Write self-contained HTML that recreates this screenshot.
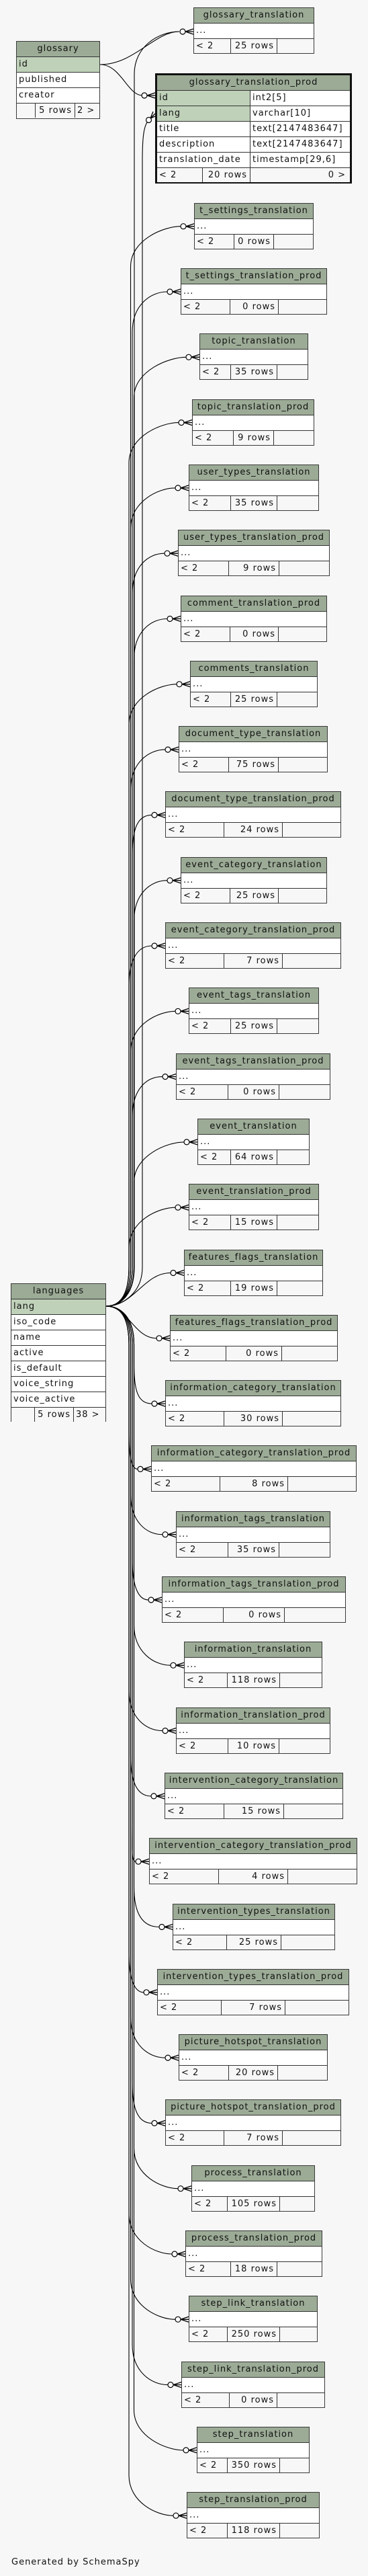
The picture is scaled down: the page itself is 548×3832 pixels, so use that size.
<!DOCTYPE html>
<html><head><meta charset="utf-8"><style>
html,body{margin:0;padding:0}
body{width:548px;height:3832px;background:#f7f7f7;position:relative;overflow:hidden;font-family:"DejaVu Sans","Liberation Sans",sans-serif;font-size:13px;letter-spacing:1px;color:#111}
.t{position:absolute;border:1px solid #3a3a3a;background:#fff;box-sizing:border-box;height:69px}
.h{height:22px;line-height:22px;background:#9cab96;border-bottom:1px solid #333;text-align:center;white-space:nowrap;overflow:hidden}
.r{height:22px;line-height:22px;border-bottom:1px solid #333;padding-left:3px;white-space:nowrap;overflow:hidden}
.pk{background:#bfd1b9}
.f{height:21px;line-height:21px;display:flex;background:#f7f7f7}
.f span{box-sizing:border-box;border-right:1px solid #333;padding:0 3px;white-space:nowrap;overflow:hidden;display:block}
.f span.c{text-align:right;padding-right:4px}
.f span:last-child{border-right:none;flex:1}
svg{position:absolute;left:0;top:0}
</style></head><body>
<svg width="548" height="3832" viewBox="0 0 548 3832">
<defs><g id="cf"><path d="M-12,0 L0,-4 M-12,0 L0,0 M-12,0 L0,4" stroke="#000" stroke-width="1.3" fill="none"/><circle cx="-16" cy="0" r="4" fill="#fff" stroke="#000" stroke-width="1.2"/></g></defs>
<g fill="none" stroke="#000" stroke-width="1.1">
<path d="M149,96 C200,96 230,47 267,47"/>
<path d="M149,96 C180,96 190,142 212,142"/>
<path d="M158,1943 C180,1943 200,1925 200,1885 L200,110 C200,70 235,47 267,47"/>
<path d="M158,1943 C180,1943 212,1925 212,1885 L212,240 C212,205 214,190 219,182"/>
<path d="M158,1943 C180,1943 194.5,1925 194.5,1885 L194.5,396.7 C194.5,356.7 244,336.7 269,336.7"/>
<path d="M158,1943 C180,1943 197,1925 197,1885 L197,494 C197,454 224,434 249,434"/>
<path d="M158,1943 C180,1943 199.5,1925 199.5,1885 L199.5,591.3 C199.5,551.3 252,531.3 277,531.3"/>
<path d="M158,1943 C180,1943 192,1925 192,1885 L192,688.6 C192,648.6 241,628.6 266,628.6"/>
<path d="M158,1943 C180,1943 194.5,1925 194.5,1885 L194.5,785.9 C194.5,745.9 236,725.9 261,725.9"/>
<path d="M158,1943 C180,1943 197,1925 197,1885 L197,883.2 C197,843.2 220,823.2 245,823.2"/>
<path d="M158,1943 C180,1943 199.5,1925 199.5,1885 L199.5,980.5 C199.5,940.5 224,920.5 249,920.5"/>
<path d="M158,1943 C180,1943 192,1925 192,1885 L192,1077.8 C192,1037.8 238,1017.8 263,1017.8"/>
<path d="M158,1943 C180,1943 194.5,1925 194.5,1885 L194.5,1175.1 C194.5,1135.1 221,1115.1 246,1115.1"/>
<path d="M158,1943 C180,1943 197,1925 197,1885 L197,1272.4 C197,1232.4 205,1212.4 226,1212.4"/>
<path d="M158,1943 C180,1943 199.5,1925 199.5,1885 L199.5,1369.7 C199.5,1329.7 224,1309.7 249,1309.7"/>
<path d="M158,1943 C180,1943 192,1925 192,1885 L192,1467 C192,1427 205,1407 226,1407"/>
<path d="M158,1943 C180,1943 194.5,1925 194.5,1885 L194.5,1564.3 C194.5,1524.3 236,1504.3 261,1504.3"/>
<path d="M158,1943 C180,1943 197,1925 197,1885 L197,1661.6 C197,1621.6 217,1601.6 242,1601.6"/>
<path d="M158,1943 C180,1943 199.5,1925 199.5,1885 L199.5,1758.9 C199.5,1718.9 249,1698.9 274,1698.9"/>
<path d="M158,1943 C180,1943 192,1925 192,1885 L192,1856.2 C192,1816.2 236,1796.2 261,1796.2"/>
<path d="M158,1943 C200,1943 214,1893.5 254,1893.5"/>
<path d="M158,1943 C190,1943 200,1990.8 233,1990.8"/>
<path d="M158,1943 C180,1943 199.5,1960 199.5,2000 L199.5,2028.1 C199.5,2068.1 205,2088.1 226,2088.1"/>
<path d="M158,1943 C180,1943 192,1960 192,2000 L192,2125.4 C192,2165.4 195,2185.4 205,2185.4"/>
<path d="M158,1943 C180,1943 194.5,1960 194.5,2000 L194.5,2222.7 C194.5,2262.7 217,2282.7 242,2282.7"/>
<path d="M158,1943 C180,1943 197,1960 197,2000 L197,2320 C197,2360 206,2380 221,2380"/>
<path d="M158,1943 C180,1943 199.5,1960 199.5,2000 L199.5,2417.3 C199.5,2457.3 229,2477.3 254,2477.3"/>
<path d="M158,1943 C180,1943 192,1960 192,2000 L192,2514.6 C192,2554.6 217,2574.6 242,2574.6"/>
<path d="M158,1943 C180,1943 194.5,1960 194.5,2000 L194.5,2611.9 C194.5,2651.9 205,2671.9 225,2671.9"/>
<path d="M158,1943 C180,1943 197,1960 197,2000 L197,2709.2 C197,2749.2 195,2769.2 202,2769.2"/>
<path d="M158,1943 C180,1943 199.5,1960 199.5,2000 L199.5,2806.5 C199.5,2846.5 212,2866.5 237,2866.5"/>
<path d="M158,1943 C180,1943 192,1960 192,2000 L192,2903.8 C192,2943.8 200,2963.8 214,2963.8"/>
<path d="M158,1943 C180,1943 194.5,1960 194.5,2000 L194.5,3001.1 C194.5,3041.1 221,3061.1 246,3061.1"/>
<path d="M158,1943 C180,1943 197,1960 197,2000 L197,3098.4 C197,3138.4 206,3158.4 226,3158.4"/>
<path d="M158,1943 C180,1943 199.5,1960 199.5,2000 L199.5,3195.7 C199.5,3235.7 240,3255.7 265,3255.7"/>
<path d="M158,1943 C180,1943 192,1960 192,2000 L192,3293 C192,3333 231,3353 256,3353"/>
<path d="M158,1943 C180,1943 194.5,1960 194.5,2000 L194.5,3390.3 C194.5,3430.3 236,3450.3 261,3450.3"/>
<path d="M158,1943 C180,1943 197,1960 197,2000 L197,3487.6 C197,3527.6 225,3547.6 250,3547.6"/>
<path d="M158,1943 C180,1943 199.5,1960 199.5,2000 L199.5,3584.9 C199.5,3624.9 248,3644.9 273,3644.9"/>
<path d="M158,1943 C180,1943 192,1960 192,2000 L192,3682.2 C192,3722.2 233,3742.2 258,3742.2"/>
<path d="M224,176 L231,169 M224,176 L228,166 M224,176 L231,173" stroke-width="1.3"/>
</g>
<circle cx="221.5" cy="178.5" r="4" fill="#fff" stroke="#000" stroke-width="1.2"/>
<use href="#cf" x="288" y="47"/>
<use href="#cf" x="231" y="142"/>
<use href="#cf" x="289" y="336.7"/><use href="#cf" x="269" y="434"/><use href="#cf" x="297" y="531.3"/><use href="#cf" x="286" y="628.6"/><use href="#cf" x="281" y="725.9"/><use href="#cf" x="265" y="823.2"/><use href="#cf" x="269" y="920.5"/><use href="#cf" x="283" y="1017.8"/><use href="#cf" x="266" y="1115.1"/><use href="#cf" x="246" y="1212.4"/><use href="#cf" x="269" y="1309.7"/><use href="#cf" x="246" y="1407"/><use href="#cf" x="281" y="1504.3"/><use href="#cf" x="262" y="1601.6"/><use href="#cf" x="294" y="1698.9"/><use href="#cf" x="281" y="1796.2"/><use href="#cf" x="274" y="1893.5"/><use href="#cf" x="253" y="1990.8"/><use href="#cf" x="246" y="2088.1"/><use href="#cf" x="225" y="2185.4"/><use href="#cf" x="262" y="2282.7"/><use href="#cf" x="241" y="2380"/><use href="#cf" x="274" y="2477.3"/><use href="#cf" x="262" y="2574.6"/><use href="#cf" x="245" y="2671.9"/><use href="#cf" x="222" y="2769.2"/><use href="#cf" x="257" y="2866.5"/><use href="#cf" x="234" y="2963.8"/><use href="#cf" x="266" y="3061.1"/><use href="#cf" x="246" y="3158.4"/><use href="#cf" x="285" y="3255.7"/><use href="#cf" x="276" y="3353"/><use href="#cf" x="281" y="3450.3"/><use href="#cf" x="270" y="3547.6"/><use href="#cf" x="293" y="3644.9"/><use href="#cf" x="278" y="3742.2"/>
</svg>

<!-- glossary -->
<div class="t" style="left:24px;top:61px;width:125px;height:116px"><div class="h">glossary</div><div class="r pk">id</div><div class="r">published</div><div class="r">creator</div><div class="f"><span style="width:28px"></span><span class="c" style="width:59px">5 rows</span><span>2 &gt;</span></div></div>

<!-- languages -->
<div class="t" style="left:16px;top:1909px;width:142px;height:206px"><div class="h">languages</div><div class="r pk">lang</div><div class="r">iso_code</div><div class="r">name</div><div class="r">active</div><div class="r">is_default</div><div class="r">voice_string</div><div class="r">voice_active</div><div class="f"><span style="width:35px"></span><span class="c" style="width:58px">5 rows</span><span>38 &gt;</span></div></div>

<!-- glossary_translation -->
<div class="t" style="left:288px;top:10.7px;width:180px"><div class="h">glossary_translation</div><div class="r">...</div><div class="f"><span style="width:55px">&lt; 2</span><span class="c" style="width:69px">25 rows</span><span></span></div></div>

<!-- glossary_translation_prod -->
<div style="position:absolute;left:231px;top:109px;width:293px;height:164px;border:3px solid #111;box-sizing:border-box;background:#fff">
<div class="h" style="height:22px">glossary_translation_prod</div>
<div style="display:flex"><div style="width:138px;border-right:1px solid #333">
<div class="r pk">id</div><div class="r pk">lang</div><div class="r">title</div><div class="r">description</div><div class="r">translation_date</div></div>
<div style="flex:1"><div class="r">int2[5]</div><div class="r">varchar[10]</div><div class="r">text[2147483647]</div><div class="r">text[2147483647]</div><div class="r">timestamp[29,6]</div></div></div>
<div class="f"><span style="width:68px">&lt; 2</span><span class="c" style="width:71px">20 rows</span><span style="text-align:right;padding-right:6px">0 &gt;</span></div>
</div>

<div class="t" style="left:289px;top:301.7px;width:178px"><div class="h">t_settings_translation</div><div class="r">...</div><div class="f"><span style="width:59px">&lt; 2</span><span class="c" style="width:59px">0 rows</span><span></span></div></div>
<div class="t" style="left:269px;top:399px;width:218px"><div class="h">t_settings_translation_prod</div><div class="r">...</div><div class="f"><span style="width:73px">&lt; 2</span><span class="c" style="width:72px">0 rows</span><span></span></div></div>
<div class="t" style="left:297px;top:496.3px;width:162px"><div class="h">topic_translation</div><div class="r">...</div><div class="f"><span style="width:46px">&lt; 2</span><span class="c" style="width:69px">35 rows</span><span></span></div></div>
<div class="t" style="left:286px;top:593.6px;width:182px"><div class="h">topic_translation_prod</div><div class="r">...</div><div class="f"><span style="width:61px">&lt; 2</span><span class="c" style="width:60px">9 rows</span><span></span></div></div>
<div class="t" style="left:281px;top:690.9px;width:194px"><div class="h">user_types_translation</div><div class="r">...</div><div class="f"><span style="width:62px">&lt; 2</span><span class="c" style="width:69px">35 rows</span><span></span></div></div>
<div class="t" style="left:265px;top:788.2px;width:226px"><div class="h">user_types_translation_prod</div><div class="r">...</div><div class="f"><span style="width:75px">&lt; 2</span><span class="c" style="width:75px">9 rows</span><span></span></div></div>
<div class="t" style="left:269px;top:885.5px;width:218px"><div class="h">comment_translation_prod</div><div class="r">...</div><div class="f"><span style="width:73px">&lt; 2</span><span class="c" style="width:72px">0 rows</span><span></span></div></div>
<div class="t" style="left:283px;top:982.8px;width:190px"><div class="h">comments_translation</div><div class="r">...</div><div class="f"><span style="width:60px">&lt; 2</span><span class="c" style="width:69px">25 rows</span><span></span></div></div>
<div class="t" style="left:266px;top:1080.1px;width:222px"><div class="h">document_type_translation</div><div class="r">...</div><div class="f"><span style="width:74px">&lt; 2</span><span class="c" style="width:74px">75 rows</span><span></span></div></div>
<div class="t" style="left:246px;top:1177.4px;width:262px"><div class="h">document_type_translation_prod</div><div class="r">...</div><div class="f"><span style="width:87px">&lt; 2</span><span class="c" style="width:87px">24 rows</span><span></span></div></div>
<div class="t" style="left:269px;top:1274.7px;width:218px"><div class="h">event_category_translation</div><div class="r">...</div><div class="f"><span style="width:73px">&lt; 2</span><span class="c" style="width:72px">25 rows</span><span></span></div></div>
<div class="t" style="left:246px;top:1372px;width:262px"><div class="h">event_category_translation_prod</div><div class="r">...</div><div class="f"><span style="width:87px">&lt; 2</span><span class="c" style="width:87px">7 rows</span><span></span></div></div>
<div class="t" style="left:281px;top:1469.3px;width:194px"><div class="h">event_tags_translation</div><div class="r">...</div><div class="f"><span style="width:62px">&lt; 2</span><span class="c" style="width:69px">25 rows</span><span></span></div></div>
<div class="t" style="left:262px;top:1566.6px;width:230px"><div class="h">event_tags_translation_prod</div><div class="r">...</div><div class="f"><span style="width:77px">&lt; 2</span><span class="c" style="width:76px">0 rows</span><span></span></div></div>
<div class="t" style="left:294px;top:1663.9px;width:167px"><div class="h">event_translation</div><div class="r">...</div><div class="f"><span style="width:49px">&lt; 2</span><span class="c" style="width:69px">64 rows</span><span></span></div></div>
<div class="t" style="left:281px;top:1761.2px;width:194px"><div class="h">event_translation_prod</div><div class="r">...</div><div class="f"><span style="width:62px">&lt; 2</span><span class="c" style="width:69px">15 rows</span><span></span></div></div>
<div class="t" style="left:274px;top:1858.5px;width:207px"><div class="h">features_flags_translation</div><div class="r">...</div><div class="f"><span style="width:69px">&lt; 2</span><span class="c" style="width:69px">19 rows</span><span></span></div></div>
<div class="t" style="left:253px;top:1955.8px;width:250px"><div class="h">features_flags_translation_prod</div><div class="r">...</div><div class="f"><span style="width:83px">&lt; 2</span><span class="c" style="width:83px">0 rows</span><span></span></div></div>
<div class="t" style="left:246px;top:2053.1px;width:262px"><div class="h">information_category_translation</div><div class="r">...</div><div class="f"><span style="width:87px">&lt; 2</span><span class="c" style="width:87px">30 rows</span><span></span></div></div>
<div class="t" style="left:225px;top:2150.4px;width:306px"><div class="h">information_category_translation_prod</div><div class="r">...</div><div class="f"><span style="width:102px">&lt; 2</span><span class="c" style="width:101px">8 rows</span><span></span></div></div>
<div class="t" style="left:262px;top:2247.7px;width:230px"><div class="h">information_tags_translation</div><div class="r">...</div><div class="f"><span style="width:77px">&lt; 2</span><span class="c" style="width:76px">35 rows</span><span></span></div></div>
<div class="t" style="left:241px;top:2345px;width:274px"><div class="h">information_tags_translation_prod</div><div class="r">...</div><div class="f"><span style="width:91px">&lt; 2</span><span class="c" style="width:91px">0 rows</span><span></span></div></div>
<div class="t" style="left:274px;top:2442.3px;width:206px"><div class="h">information_translation</div><div class="r">...</div><div class="f"><span style="width:64px">&lt; 2</span><span class="c" style="width:78px">118 rows</span><span></span></div></div>
<div class="t" style="left:262px;top:2539.6px;width:230px"><div class="h">information_translation_prod</div><div class="r">...</div><div class="f"><span style="width:77px">&lt; 2</span><span class="c" style="width:76px">10 rows</span><span></span></div></div>
<div class="t" style="left:245px;top:2636.9px;width:266px"><div class="h">intervention_category_translation</div><div class="r">...</div><div class="f"><span style="width:88px">&lt; 2</span><span class="c" style="width:89px">15 rows</span><span></span></div></div>
<div class="t" style="left:222px;top:2734.2px;width:310px"><div class="h">intervention_category_translation_prod</div><div class="r">...</div><div class="f"><span style="width:103px">&lt; 2</span><span class="c" style="width:103px">4 rows</span><span></span></div></div>
<div class="t" style="left:257px;top:2831.5px;width:242px"><div class="h">intervention_types_translation</div><div class="r">...</div><div class="f"><span style="width:80px">&lt; 2</span><span class="c" style="width:81px">25 rows</span><span></span></div></div>
<div class="t" style="left:234px;top:2928.8px;width:286px"><div class="h">intervention_types_translation_prod</div><div class="r">...</div><div class="f"><span style="width:95px">&lt; 2</span><span class="c" style="width:95px">7 rows</span><span></span></div></div>
<div class="t" style="left:266px;top:3026.1px;width:222px"><div class="h">picture_hotspot_translation</div><div class="r">...</div><div class="f"><span style="width:74px">&lt; 2</span><span class="c" style="width:73px">20 rows</span><span></span></div></div>
<div class="t" style="left:246px;top:3123.4px;width:262px"><div class="h">picture_hotspot_translation_prod</div><div class="r">...</div><div class="f"><span style="width:87px">&lt; 2</span><span class="c" style="width:87px">7 rows</span><span></span></div></div>
<div class="t" style="left:285px;top:3220.7px;width:184px"><div class="h">process_translation</div><div class="r">...</div><div class="f"><span style="width:53px">&lt; 2</span><span class="c" style="width:78px">105 rows</span><span></span></div></div>
<div class="t" style="left:276px;top:3318px;width:204px"><div class="h">process_translation_prod</div><div class="r">...</div><div class="f"><span style="width:67px">&lt; 2</span><span class="c" style="width:69px">18 rows</span><span></span></div></div>
<div class="t" style="left:281px;top:3415.3px;width:192px"><div class="h">step_link_translation</div><div class="r">...</div><div class="f"><span style="width:57px">&lt; 2</span><span class="c" style="width:78px">250 rows</span><span></span></div></div>
<div class="t" style="left:270px;top:3512.6px;width:214px"><div class="h">step_link_translation_prod</div><div class="r">...</div><div class="f"><span style="width:71px">&lt; 2</span><span class="c" style="width:71px">0 rows</span><span></span></div></div>
<div class="t" style="left:293px;top:3609.9px;width:168px"><div class="h">step_translation</div><div class="r">...</div><div class="f"><span style="width:45px">&lt; 2</span><span class="c" style="width:78px">350 rows</span><span></span></div></div>
<div class="t" style="left:278px;top:3707.2px;width:198px"><div class="h">step_translation_prod</div><div class="r">...</div><div class="f"><span style="width:60px">&lt; 2</span><span class="c" style="width:78px">118 rows</span><span></span></div></div>

<div style="position:absolute;left:17px;top:3803px;line-height:18px;white-space:nowrap">Generated by SchemaSpy</div>
</body></html>
